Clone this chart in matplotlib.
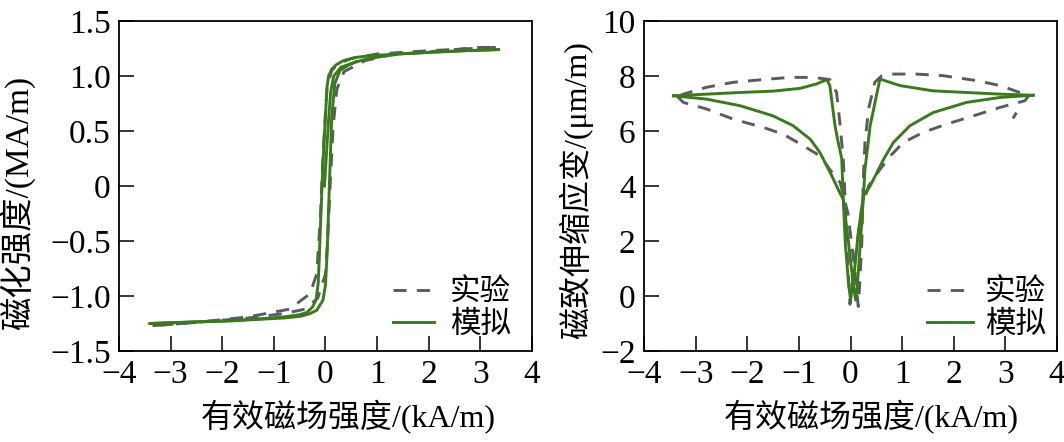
import numpy as np
import matplotlib
matplotlib.use("Agg")
import matplotlib.pyplot as plt

plt.rcParams['font.family'] = ['Liberation Serif', 'Noto Sans CJK SC']
plt.rcParams['axes.unicode_minus'] = True

# ---- 左图: 磁化强度 M-H 回线 (kA/m, MA/m) ----
# 实验 上升支 / 下降支
m_exp_up_h = [-3.35, -2.5, -1.5, -0.8, -0.4, -0.15, 0.0, 0.05, 0.1, 0.15, 0.22, 0.36, 0.77, 1.25, 2.0, 3.0, 3.3]
m_exp_up_m = [-1.27, -1.24, -1.2, -1.16, -1.12, -1.02, -0.8, -0.4, 0.1, 0.55, 0.88, 1.04, 1.14, 1.19, 1.22, 1.26, 1.26]
m_exp_dn_h = [3.3, 2.0, 1.0, 0.5, 0.25, 0.12, 0.03, -0.04, -0.1, -0.17, -0.3, -0.7, -1.5, -2.5, -3.35]
m_exp_dn_m = [1.26, 1.23, 1.2, 1.16, 1.11, 1.05, 0.9, 0.35, -0.3, -0.8, -0.98, -1.12, -1.19, -1.24, -1.27]
# 模拟 上升支 / 下降支 / 初始磁化曲线
m_sim_up_h = [-3.4, -2.5, -1.8, -1.2, -0.8, -0.49, -0.3, -0.17, -0.05, 0.0, 0.035, 0.075, 0.12,
              0.18, 0.28, 0.45, 0.6, 0.86, 1.4, 2.0, 2.7, 3.35]
m_sim_up_m = [-1.25, -1.235, -1.225, -1.21, -1.2, -1.185, -1.16, -1.13, -1.04, -0.9, -0.58, 0.0, 0.62,
              0.93, 1.05, 1.1, 1.13, 1.16, 1.2, 1.215, 1.23, 1.24]
m_sim_dn_h = [3.35, 2.7, 2.0, 1.4, 0.9, 0.6, 0.35, 0.2, 0.12, 0.06, 0.03, -0.01, -0.05, -0.09, -0.12,
              -0.14, -0.18, -0.25, -0.36, -0.5, -0.8, -1.2, -1.8, -2.5, -3.4]
m_sim_dn_m = [1.24, 1.23, 1.215, 1.2, 1.185, 1.17, 1.14, 1.1, 1.06, 1.0, 0.9, 0.55, 0.2, -0.28, -0.65,
              -0.88, -1.03, -1.1, -1.15, -1.17, -1.19, -1.205, -1.225, -1.235, -1.25]
m_sim_init_h = [-0.02, 0.02, 0.06, 0.1, 0.16, 0.3, 0.6]
m_sim_init_m = [0.0, 0.3, 0.6, 0.85, 1.0, 1.08, 1.13]

# ---- 右图: 磁致伸缩应变 λ-H 蝶形曲线 (kA/m, μm/m) ----
s_exp_up_h = [-3.35, -3.24, -2.79, -2.27, -1.69, -1.3, -0.91, -0.59, -0.4, -0.2, -0.05, 0.08, 0.15,
              0.18, 0.22, 0.25, 0.28, 0.35, 0.47, 0.6, 0.77, 1.28, 1.8, 2.45, 2.9, 3.28, 3.45]
s_exp_up_s = [7.25, 7.04, 6.8, 6.43, 6.13, 5.88, 5.46, 5.09, 4.6, 4.12, 3.0, 1.0, -0.38,
              0.5, 2.0, 4.36, 5.58, 6.8, 7.77, 8.0, 8.07, 8.07, 8.01, 7.83, 7.65, 7.4, 7.28]
s_exp_dn_h = [3.45, 3.38, 2.9, 2.38, 1.86, 1.41, 1.02, 0.77, 0.57, 0.35, 0.22, 0.1, -0.01,
              -0.07, -0.11, -0.14, -0.2, -0.27, -0.4, -0.72, -1.17, -1.69, -2.27, -2.79, -3.24, -3.35]
s_exp_dn_s = [7.28, 7.1, 6.86, 6.55, 6.25, 5.95, 5.58, 5.09, 4.6, 4.0, 3.2, 1.5, -0.3,
              1.7, 3.76, 4.97, 6.19, 7.4, 7.87, 7.95, 7.95, 7.87, 7.77, 7.59, 7.34, 7.25]
s_exp_tail_h = [3.16, 3.2]
s_exp_tail_s = [6.5, 6.62]

s_sim_up_h = [-3.43, -2.79, -2.14, -1.5, -1.11, -0.78, -0.59, -0.46, -0.36, -0.24, -0.14, -0.03, 0.06,
              0.1, 0.14, 0.2, 0.25, 0.28, 0.38, 0.57, 0.96, 1.6, 2.25, 2.9, 3.54]
s_sim_up_s = [7.28, 7.16, 6.92, 6.55, 6.19, 5.7, 5.21, 4.73, 4.36, 3.88, 3.51, 1.8, 0.3,
              -0.15, 0.6, 2.2, 3.63, 4.6, 6.19, 7.89, 7.65, 7.46, 7.4, 7.34, 7.3]
s_sim_dn_h = [3.54, 2.9, 2.25, 1.6, 1.15, 0.83, 0.64, 0.51, 0.38, 0.25, 0.15, 0.06, 0.0,
              -0.04, -0.1, -0.14, -0.17, -0.24, -0.3, -0.4, -0.46, -0.66, -0.98, -1.5, -2.14, -2.79, -3.43]
s_sim_dn_s = [7.3, 7.22, 7.04, 6.67, 6.19, 5.58, 4.97, 4.48, 4.0, 3.63, 2.3, 0.6, -0.12,
              0.5, 1.9, 3.51, 5.0, 5.6, 6.19, 7.65, 7.87, 7.71, 7.55, 7.45, 7.4, 7.34, 7.28]

green = '#3b7a1c'
gray = '#5a5a66'
lw = 2.1
dash = (0, (4.5, 3.5))

fig = plt.figure(figsize=(10.64, 4.42), dpi=100)
ax1 = fig.add_axes([0.1118, 0.2059, 0.3882, 0.7466])
ax2 = fig.add_axes([0.6053, 0.2059, 0.3881, 0.7466])

ax1.plot(m_exp_up_h, m_exp_up_m, color=gray, lw=lw, ls=dash, label='实验')
ax1.plot(m_exp_dn_h, m_exp_dn_m, color=gray, lw=lw, ls=dash)
ax1.plot(m_sim_up_h, m_sim_up_m, color=green, lw=lw, label='模拟')
ax1.plot(m_sim_dn_h, m_sim_dn_m, color=green, lw=lw)
ax1.plot(m_sim_init_h, m_sim_init_m, color=green, lw=lw)

ax2.plot(s_exp_up_h, s_exp_up_s, color=gray, lw=lw, ls=dash, label='实验')
ax2.plot(s_exp_dn_h, s_exp_dn_s, color=gray, lw=lw, ls=dash)
ax2.plot(s_exp_tail_h, s_exp_tail_s, color=gray, lw=lw)
ax2.plot(s_sim_up_h, s_sim_up_s, color=green, lw=lw, label='模拟')
ax2.plot(s_sim_dn_h, s_sim_dn_s, color=green, lw=lw)

x_ticks = [-4, -3, -2, -1, 0, 1, 2, 3, 4]
x_labels = ['\u22124', '\u22123', '\u22122', '\u22121', '0', '1', '2', '3', '4']
m_ticks = [-1.5, -1.0, -0.5, 0, 0.5, 1.0, 1.5]
m_labels = ['\u22121.5', '\u22121.0', '\u22120.5', '0', '0.5', '1.0', '1.5']
s_ticks = [-2, 0, 2, 4, 6, 8, 10]
s_labels = ['\u22122', '0', '2', '4', '6', '8', '10']

for ax in (ax1, ax2):
    ax.set_xlim(-4, 4)
    ax.set_xticks(x_ticks)
    ax.set_xticklabels(x_labels)
    ax.tick_params(direction='in', length=11, width=1.1, labelsize=24, top=False, right=False)
    ax.tick_params(axis='x', pad=6)
    ax.tick_params(axis='y', pad=6)
    for sp in ax.spines.values():
        sp.set_linewidth(1.3)

ax1.legend(loc='lower right', bbox_to_anchor=(1.0, -0.03), frameon=False, fontsize=22,
           handlelength=1.35, handletextpad=0.5, labelspacing=0.1, borderpad=0.2)
ax2.legend(loc='lower right', bbox_to_anchor=(1.025, -0.03), frameon=False, fontsize=22,
           handlelength=1.5, handletextpad=0.4, labelspacing=0.1, borderpad=0.2)

ax1.set_ylim(-1.5, 1.5)
ax1.set_yticks(m_ticks)
ax1.set_yticklabels(m_labels)
ax2.set_ylim(-2, 10)
ax2.set_yticks(s_ticks)
ax2.set_yticklabels(s_labels)

ax1.set_xlabel('有效磁场强度/(kA/m)', fontsize=23)
ax2.set_xlabel('有效磁场强度/(kA/m)', fontsize=23)
ax1.set_ylabel('磁化强度/(MA/m)', fontsize=24)
ax2.set_ylabel('磁致伸缩应变/(μm/m)', fontsize=23)
ax1.xaxis.set_label_coords(0.555, -0.15)
ax2.xaxis.set_label_coords(0.55, -0.15)
ax1.yaxis.set_label_coords(-0.203, 0.45)
ax2.yaxis.set_label_coords(-0.123, 0.488)

fig.savefig('out.png', dpi=100)
